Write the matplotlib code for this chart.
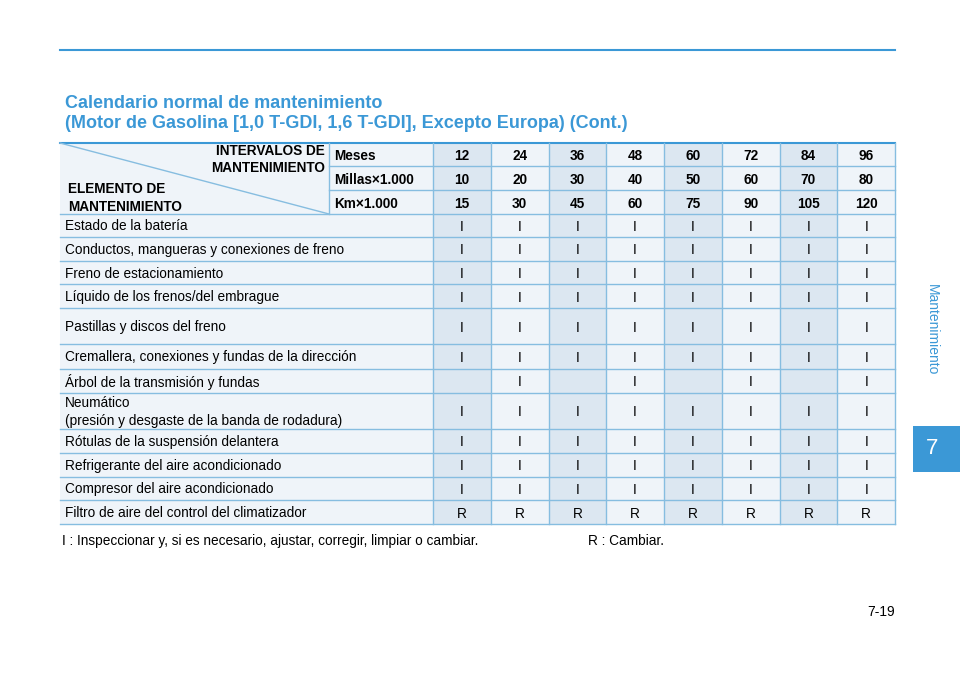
import matplotlib
matplotlib.use("Agg")
import matplotlib.pyplot as plt
from matplotlib.patches import Rectangle

months = ["12", "24", "36", "48", "60", "72", "84", "96"]
miles = ["10", "20", "30", "40", "50", "60", "70", "80"]
km = ["15", "30", "45", "60", "75", "90", "105", "120"]
header_labels = ["Meses", "Millas\u00d71.000", "Km\u00d71.000"]
items = [
    "Estado de la batería",
    "Conductos, mangueras y conexiones de freno",
    "Freno de estacionamiento",
    "Líquido de los frenos/del embrague",
    "Pastillas y discos del freno",
    "Cremallera, conexiones y fundas de la dirección",
    "Árbol de la transmisión y fundas",
    "Neumático\n(presión y desgaste de la banda de rodadura)",
    "Rótulas de la suspensión delantera",
    "Refrigerante del aire acondicionado",
    "Compresor del aire acondicionado",
    "Filtro de aire del control del climatizador",
]
actions = [
    ["I"] * 8, ["I"] * 8, ["I"] * 8, ["I"] * 8, ["I"] * 8, ["I"] * 8,
    ["", "I", "", "I", "", "I", "", "I"],
    ["I"] * 8, ["I"] * 8, ["I"] * 8, ["I"] * 8,
    ["R"] * 8,
]

W, H = 960, 676
fig = plt.figure(figsize=(W / 100, H / 100), dpi=100)
ax = fig.add_axes([0, 0, 1, 1])
ax.set_xlim(0, W)
ax.set_ylim(H, 0)
ax.axis("off")

blue = "#3b98d6"
line = "#86bde0"
shade = "#dce7f1"
light = "#eff4f9"
F = "Liberation Sans"
fs = 9.8

ax.plot([60, 895], [50, 50], color=blue, lw=1.5)
ax.text(65, 104, "Calendario normal de mantenimiento", color=blue, fontsize=13,
        fontweight="bold", family=F, va="center")
ax.text(65, 123, "(Motor de Gasolina [1,0 T-GDI, 1,6 T-GDI], Excepto Europa) (Cont.)",
        color=blue, fontsize=13, fontweight="bold", family=F, va="center")

left, right = 60, 895
pcol = 329
c0 = 433
cw = (right - c0) / 8
hdr = [143, 166, 190, 214]
rows = [214, 237, 261, 284, 308, 344, 369, 393, 429, 453, 477, 500, 524]

ax.add_patch(Rectangle((left, hdr[0]), right - left, rows[-1] - hdr[0], color=light, lw=0))
for j in range(8):
    if j % 2 == 0:
        ax.add_patch(Rectangle((c0 + j * cw, hdr[0]), cw, rows[-1] - hdr[0], color=shade, lw=0))

ax.plot([left, right], [hdr[0], hdr[0]], color=blue, lw=1.5)
for y in hdr[1:3]:
    ax.plot([pcol, right], [y, y], color=line, lw=1)
for y in rows:
    ax.plot([left, right], [y, y], color=line, lw=1)
ax.plot([pcol, pcol], [hdr[0], hdr[3]], color=line, lw=1)
for j in range(9):
    ax.plot([c0 + j * cw] * 2, [hdr[0], rows[-1]], color=line, lw=1)
ax.plot([left, pcol], [hdr[0], hdr[3]], color=line, lw=1)

ax.text(325, 151, "INTERVALOS DE", fontsize=fs, fontweight="bold", family=F, ha="right", va="center")
ax.text(325, 168, "MANTENIMIENTO", fontsize=fs, fontweight="bold", family=F, ha="right", va="center")
ax.text(68, 189, "ELEMENTO DE", fontsize=fs, fontweight="bold", family=F, va="center")
ax.text(68, 207, "MANTENIMIENTO", fontsize=fs, fontweight="bold", family=F, va="center")

for i, (lab, vals) in enumerate(zip(header_labels, [months, miles, km])):
    yc = (hdr[i] + hdr[i + 1]) / 2
    ax.text(pcol + 5, yc, lab, fontsize=fs, fontweight="bold", family=F, va="center_baseline")
    for j, v in enumerate(vals):
        ax.text(c0 + (j + 0.5) * cw, yc, v, fontsize=fs, fontweight="bold", family=F,
                ha="center", va="center_baseline")

for i, (it, acts) in enumerate(zip(items, actions)):
    yc = (rows[i] + rows[i + 1]) / 2
    ax.text(65, yc + 1, it, fontsize=fs, family=F, va="center", linespacing=1.4)
    for j, a in enumerate(acts):
        ax.text(c0 + (j + 0.5) * cw, yc, a, fontsize=fs, family=F, ha="center", va="center_baseline")

ax.text(62, 541, "I : Inspeccionar y, si es necesario, ajustar, corregir, limpiar o cambiar.",
        fontsize=fs, family=F, va="center")
ax.text(588, 541, "R : Cambiar.", fontsize=fs, family=F, va="center")
ax.text(895, 612, "7-19", fontsize=10, family=F, ha="right", va="center")

ax.add_patch(Rectangle((913, 426), 47, 46, color=blue, lw=0))
ax.text(932, 449, "7", color="white", fontsize=16, family=F, ha="center", va="center")
ax.text(932, 330, "Mantenimiento", color=blue, fontsize=10, family=F, rotation=-90,
        ha="center", va="center")

fig.savefig("out.png", dpi=100)
